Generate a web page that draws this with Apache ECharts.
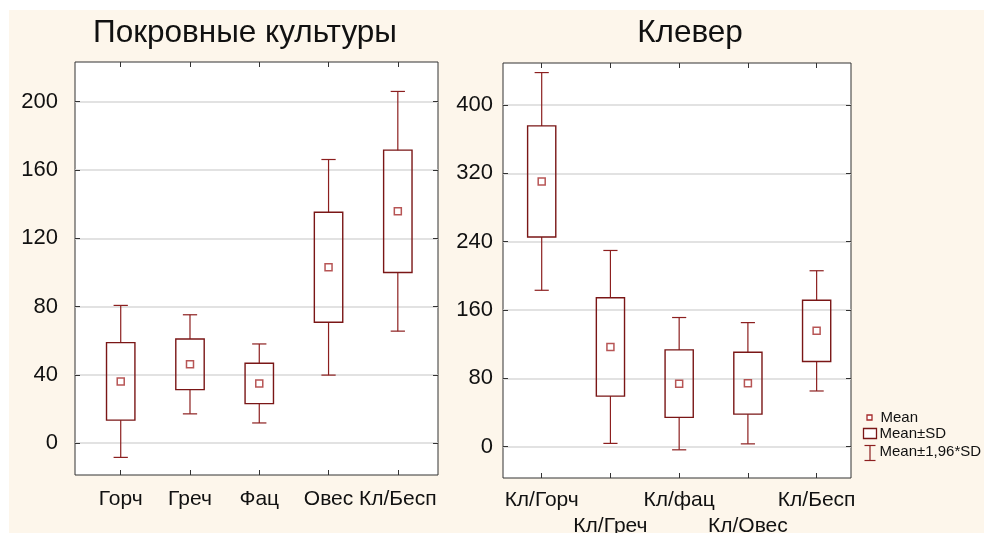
<!DOCTYPE html>
<html>
<head>
<meta charset="utf-8">
<script src="https://cdn.jsdelivr.net/npm/echarts@6/dist/echarts.min.js"></script>
<style>
  html, body { margin: 0; padding: 0; background: #ffffff; }
  #paper { position: absolute; left: 9px; top: 10px; width: 975px; height: 523px; background: #fdf6eb; }
  #chart { position: absolute; left: 0; top: 0; width: 984px; height: 533px; }
</style>
</head>
<body>
<div id="paper"></div>
<div id="chart"></div>
<script>
// Покровные культуры: среднее и стандартное отклонение
const coverCrops = ['Горч', 'Греч', 'Фац', 'Овес', 'Кл/Бесп'];
const coverMean  = [36.2, 46.2, 35.0, 103.0, 135.8];
const coverSD    = [22.7, 14.8, 11.8, 32.2, 35.8];
const coverTicks = [0, 40, 80, 120, 160, 200];

// Клевер: среднее и стандартное отклонение
const cloverCrops = ['Кл/Горч', 'Кл/Греч', 'Кл/фац', 'Кл/Овес', 'Кл/Бесп'];
const cloverMean  = [310.5, 116.8, 73.8, 74.3, 135.6];
const cloverSD    = [65.0, 57.6, 39.5, 36.2, 35.9];
const cloverTicks = [0, 80, 160, 240, 320, 400];

const Z = 1.96;
const FONT = '"Liberation Sans", Arial, sans-serif';
const TEXT = '#111111';
const FRAME = '#333333';
const BOX_COLOR = '#7a1616';
const WHISKER_COLOR = '#8c1f1f';
const MEAN_COLOR = '#a52a2a';

// Category label row on a value axis: labels only at the given positions
function labelAxis(gridIndex, names, min, max, positions, margin, withTicks) {
  return {
    type: 'value', gridIndex, position: 'bottom', min, max,
    axisLine: { show: false, onZero: false },
    splitLine: { show: false },
    axisTick: {
      show: withTicks, inside: true, length: 5,
      customValues: names.map((_, i) => i + 1), lineStyle: { color: FRAME }
    },
    axisLabel: {
      customValues: positions, margin, fontSize: 21,
      color: TEXT, fontFamily: FONT,
      hideOverlap: false, showMinLabel: true, showMaxLabel: true,
      formatter: v => names[Math.round(v) - 1]
    }
  };
}

function topAxis(gridIndex, names, min, max) {
  return {
    type: 'value', gridIndex, position: 'top', min, max,
    axisLine: { show: false, onZero: false },
    splitLine: { show: false },
    axisTick: { show: true, inside: true, length: 5, customValues: names.map((_, i) => i + 1), lineStyle: { color: FRAME } },
    axisLabel: { show: false }
  };
}

function yAxes(gridIndex, min, max, ticks, margin) {
  return [
    {
      type: 'value', gridIndex, position: 'left', min, max,
      axisLine: { show: false, onZero: false },
      axisTick: { show: true, inside: true, length: 5, customValues: ticks, lineStyle: { color: FRAME } },
      axisLabel: { customValues: ticks, margin, fontSize: 22, color: TEXT, fontFamily: FONT },
      splitLine: { show: true, lineStyle: { color: '#d8d8d8', width: 1.5 } }
    },
    {
      type: 'value', gridIndex, position: 'right', min, max,
      axisLine: { show: false, onZero: false },
      axisTick: { show: true, inside: true, length: 5, customValues: ticks, lineStyle: { color: FRAME } },
      axisLabel: { show: false },
      splitLine: { show: false }
    }
  ];
}

function panelSeries(xi, yi, mean, sd) {
  const rows = mean.map((m, i) => [i + 1, m, sd[i]]);
  return [
    {
      name: 'Mean±1,96*SD', type: 'custom', xAxisIndex: xi, yAxisIndex: yi, data: rows,
      renderItem: (params, api) => {
        const x = api.value(0), m = api.value(1), s = api.value(2);
        const cx = api.coord([x, m])[0];
        const yTop = api.coord([x, m + Z * s])[1];
        const yBot = api.coord([x, m - Z * s])[1];
        const yHi = api.coord([x, m + s])[1];
        const yLo = api.coord([x, m - s])[1];
        const half = api.size([0.103, 0])[0];
        const style = { stroke: WHISKER_COLOR, lineWidth: 1.2 };
        return {
          type: 'group',
          children: [
            { type: 'line', shape: { x1: cx, y1: yTop, x2: cx, y2: yHi }, style },
            { type: 'line', shape: { x1: cx, y1: yLo, x2: cx, y2: yBot }, style },
            { type: 'line', shape: { x1: cx - half, y1: yTop, x2: cx + half, y2: yTop }, style },
            { type: 'line', shape: { x1: cx - half, y1: yBot, x2: cx + half, y2: yBot }, style }
          ]
        };
      }
    },
    {
      name: 'Mean±SD', type: 'custom', xAxisIndex: xi, yAxisIndex: yi, data: rows,
      renderItem: (params, api) => {
        const x = api.value(0), m = api.value(1), s = api.value(2);
        const cx = api.coord([x, m])[0];
        const yHi = api.coord([x, m + s])[1];
        const yLo = api.coord([x, m - s])[1];
        const half = api.size([0.205, 0])[0];
        return {
          type: 'rect',
          shape: { x: cx - half, y: yHi, width: 2 * half, height: yLo - yHi },
          style: { fill: 'none', stroke: BOX_COLOR, lineWidth: 1.4 }
        };
      }
    },
    {
      name: 'Mean', type: 'scatter', xAxisIndex: xi, yAxisIndex: yi,
      data: rows.map(r => [r[0], r[1]]),
      symbol: 'rect', symbolSize: 7, z: 5,
      itemStyle: { color: '#ffffff', borderColor: MEAN_COLOR, borderWidth: 1.5 }
    }
  ];
}

const legendText = { fill: TEXT, font: '15px ' + FONT, verticalAlign: 'middle' };
const titleStyle = { fontSize: 31.5, fontWeight: 'normal', color: TEXT, fontFamily: FONT };

const option = {
  backgroundColor: 'transparent',
  animation: false,
  title: [
    { text: 'Покровные культуры', left: 245, top: 17, textAlign: 'center', padding: 0, textStyle: titleStyle },
    { text: 'Клевер', left: 690, top: 17, textAlign: 'center', padding: 0, textStyle: titleStyle }
  ],
  grid: [
    { left: 75, top: 62, width: 363, height: 413, outerBoundsMode: 'none', containLabel: false,
      show: true, backgroundColor: '#ffffff', borderColor: FRAME, borderWidth: 1 },
    { left: 503, top: 63, width: 348, height: 415, outerBoundsMode: 'none', containLabel: false,
      show: true, backgroundColor: '#ffffff', borderColor: FRAME, borderWidth: 1 }
  ],
  xAxis: [
    labelAxis(0, coverCrops, 0.34, 5.58, [1, 2, 3, 4, 5], 14, true),   // 0
    topAxis(0, coverCrops, 0.34, 5.58),                                  // 1
    labelAxis(1, cloverCrops, 0.437, 5.5, [1, 3, 5], 12, true),          // 2
    topAxis(1, cloverCrops, 0.437, 5.5),                                 // 3
    labelAxis(1, cloverCrops, 0.437, 5.5, [2, 4], 38, false)             // 4
  ],
  yAxis: [
    ...yAxes(0, -18.6, 223.2, coverTicks, 17),
    ...yAxes(1, -36.6, 449.1, cloverTicks, 10)
  ],
  series: [
    ...panelSeries(0, 0, coverMean, coverSD),
    ...panelSeries(2, 2, cloverMean, cloverSD)
  ],
  graphic: [
    {
      type: 'group', left: 862, top: 410,
      children: [
        { type: 'rect', shape: { x: 4.5, y: 5.5, width: 5, height: 5 }, style: { fill: '#fff', stroke: MEAN_COLOR, lineWidth: 1.3 } },
        { type: 'text', x: 18, y: 8, style: Object.assign({ text: 'Mean' }, legendText) },
        { type: 'rect', shape: { x: 1, y: 19, width: 13, height: 10 }, style: { fill: '#fff', stroke: BOX_COLOR, lineWidth: 1.3 } },
        { type: 'text', x: 17, y: 24, style: Object.assign({ text: 'Mean±SD' }, legendText) },
        { type: 'line', shape: { x1: 7.5, y1: 36, x2: 7.5, y2: 51 }, style: { stroke: WHISKER_COLOR, lineWidth: 1.2 } },
        { type: 'line', shape: { x1: 2, y1: 36, x2: 13, y2: 36 }, style: { stroke: WHISKER_COLOR, lineWidth: 1.2 } },
        { type: 'line', shape: { x1: 2, y1: 51, x2: 13, y2: 51 }, style: { stroke: WHISKER_COLOR, lineWidth: 1.2 } },
        { type: 'text', x: 17, y: 42, style: Object.assign({ text: 'Mean±1,96*SD' }, legendText) }
      ]
    }
  ]
};

const chart = echarts.init(document.getElementById('chart'), null, { renderer: 'canvas' });
chart.setOption(option);
</script>
</body>
</html>
